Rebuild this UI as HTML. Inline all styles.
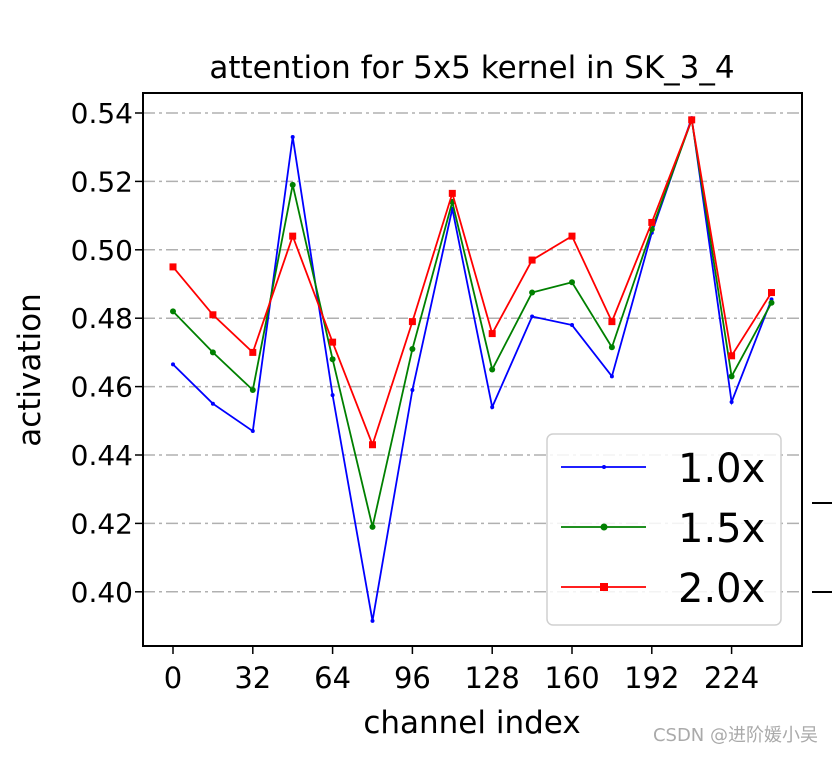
<!DOCTYPE html>
<html><head><meta charset="utf-8"><style>
body{margin:0;background:#fff;width:832px;height:752px;overflow:hidden}
svg{font-family:"DejaVu Sans","Liberation Sans","Noto Sans CJK SC",sans-serif}
</style></head><body>
<svg id="c" width="832" height="752"></svg>
<script>
const channels=[0,16,32,48,64,80,96,112,128,144,160,176,192,208,224,240];
const s10=[0.4665,0.455,0.447,0.533,0.4575,0.3915,0.459,0.512,0.454,0.4805,0.478,0.463,0.505,0.5385,0.4555,0.4855];
const s15=[0.482,0.470,0.459,0.519,0.468,0.419,0.471,0.514,0.465,0.4875,0.4905,0.4715,0.506,0.538,0.463,0.4845];
const s20=[0.495,0.481,0.470,0.504,0.473,0.443,0.479,0.5165,0.4755,0.497,0.504,0.479,0.508,0.538,0.469,0.4875];
const xTicks=[0,32,64,96,128,160,192,224];
const yTicks=[0.40,0.42,0.44,0.46,0.48,0.50,0.52,0.54];
const NS='http://www.w3.org/2000/svg';
const svg=document.getElementById('c');
function X(v){return 173+(v/32)*79.8;}
function Y(v){return 113+(0.54-v)*3420;}
function el(t,a,p){const e=document.createElementNS(NS,t);for(const k in a)e.setAttribute(k,a[k]);(p||svg).appendChild(e);return e;}
const L=143,R=802,T=93,B=646;
yTicks.forEach(v=>{
 const g=el('line',{x1:L,x2:R,y1:Y(v),y2:Y(v),stroke:'#b0b0b0','stroke-width':1.5,'stroke-dasharray':'12,4,3,4'});
 
 
 const tk=el('line',{x1:L-8,x2:L,y1:Y(v),y2:Y(v),stroke:'#000','stroke-width':1.5});
 
 
 const t=el('text',{x:L-10,y:Y(v)+10,'text-anchor':'end','font-size':28});
 t.textContent=v.toFixed(2);
 
 
});
xTicks.forEach(v=>{
 const tk=el('line',{x1:X(v),x2:X(v),y1:B,y2:B+8,stroke:'#000','stroke-width':1.5});
 
 
 const t=el('text',{x:X(v),y:B+42,'text-anchor':'middle','font-size':29});
 t.textContent=v;
 
 
});
const series=[[s10,'#0000ff','dot','series-1-0x'],[s15,'#008000','circle','series-1-5x'],[s20,'#ff0000','square','series-2-0x']];
series.forEach(([d,c,m,n])=>{
 const p=el('polyline',{points:d.map((v,i)=>X(channels[i])+','+Y(v)).join(' '),fill:'none',stroke:c,'stroke-width':1.8});
 
 
 d.forEach((v,i)=>{
  let mk;
  if(m==='square')mk=el('rect',{x:X(channels[i])-3.5,y:Y(v)-3.5,width:7,height:7,fill:c});
  else mk=el('circle',{cx:X(channels[i]),cy:Y(v),r:m==='dot'?2:3,fill:c});
  
  
 });
});
const fr=el('rect',{x:L,y:T,width:R-L,height:B-T,fill:'none',stroke:'#000','stroke-width':2});


const lg=el('g',{});


el('rect',{x:547,y:434,width:234,height:191,rx:6,fill:'#fff','fill-opacity':0.85,stroke:'#d0d0d0','stroke-width':1.5},lg);
[['1.0x','#0000ff','dot',467],['1.5x','#008000','circle',527],['2.0x','#ff0000','square',587]].forEach(([lab,c,m,y])=>{
 el('line',{x1:561,x2:646,y1:y,y2:y,stroke:c,'stroke-width':1.8},lg);
 if(m==='square')el('rect',{x:600,y:y-4,width:8,height:8,fill:c},lg);
 else el('circle',{cx:604,cy:y,r:m==='dot'?2:3.5,fill:c},lg);
 const t=el('text',{x:678,y:y+15,'font-size':40},lg);
 t.textContent=lab;
 
 
});
[503,592].forEach(y=>el('line',{x1:812,x2:832,y1:y,y2:y,stroke:'#000','stroke-width':2}));
const ti=el('text',{x:472,y:78,'text-anchor':'middle','font-size':31});
ti.textContent='attention for 5x5 kernel in SK_3_4';


const xt=el('text',{x:472,y:733,'text-anchor':'middle','font-size':31});
xt.textContent='channel index';


const yt=el('text',{x:0,y:0,'text-anchor':'middle','font-size':31,transform:'translate(40,370) rotate(-90)'});
yt.textContent='activation';


const wm=el('text',{x:818,y:741,'text-anchor':'end','font-size':18,fill:'#aaa'});
wm.textContent='CSDN @进阶媛小吴';


</script>
</body></html>
